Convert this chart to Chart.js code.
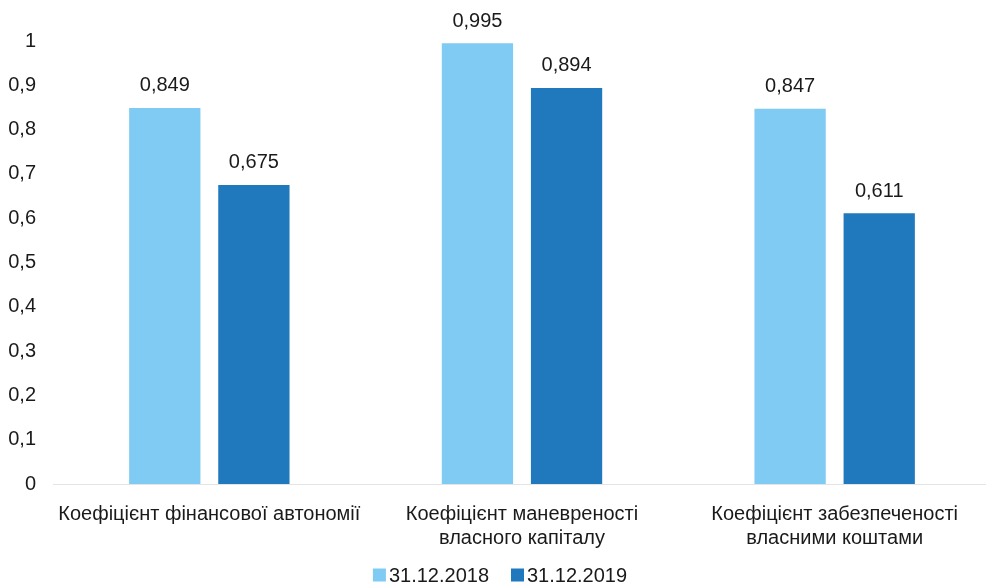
<!DOCTYPE html>
<html>
<head>
<meta charset="utf-8">
<script src="https://cdn.jsdelivr.net/npm/chart.js@4"></script>
<style>
  html, body { margin: 0; padding: 0; background: #ffffff; overflow: hidden; width: 986px; height: 584px; }
  #wrap { width: 991px; height: 584px; position: relative; }
</style>
</head>
<body>
<div id="wrap"><canvas id="c"></canvas></div>
<script>
// Financial stability ratios at two reporting dates
const categories = [
  ["Коефіцієнт фінансової автономії"],
  ["Коефіцієнт маневреності", "власного капіталу"],
  ["Коефіцієнт забезпеченості", "власними коштами"]
];
const seriesNames = ["31.12.2018", "31.12.2019"];
const values2018 = [0.849, 0.995, 0.847];
const values2019 = [0.675, 0.894, 0.611];
const yTicks = [0, 0.1, 0.2, 0.3, 0.4, 0.5, 0.6, 0.7, 0.8, 0.9, 1];

const FONT = "'Liberation Sans', Arial, sans-serif";
const TEXT = '#1a1a1a';
const fmt = v => String(v).replace('.', ',');

// Draws each bar's value above it
const valueLabels = {
  id: 'valueLabels',
  afterDatasetsDraw(chart) {
    const ctx = chart.ctx;
    ctx.save();
    ctx.font = "20px " + FONT;
    ctx.fillStyle = TEXT;
    ctx.textAlign = 'center';
    ctx.textBaseline = 'middle';
    chart.data.datasets.forEach((ds, i) => {
      chart.getDatasetMeta(i).data.forEach((bar, j) => {
        ctx.fillText(fmt(ds.data[j]), bar.x, bar.y - 22);
      });
    });
    ctx.restore();
  }
};

// Compact legend under the axis: square swatch, small gap, series name
const compactLegend = {
  id: 'compactLegend',
  afterDraw(chart) {
    const ctx = chart.ctx;
    const box = 13, gap = 3, itemGap = 22, cx = 500, cy = chart.height - 9;
    ctx.save();
    ctx.font = "20px " + FONT;
    ctx.textBaseline = 'middle';
    ctx.textAlign = 'left';
    const items = chart.data.datasets.map(ds => ({
      text: ds.label, color: ds.backgroundColor, w: box + gap + ctx.measureText(ds.label).width
    }));
    const total = items.reduce((s, it) => s + it.w, 0) + itemGap * (items.length - 1);
    let x = cx - total / 2;
    items.forEach(it => {
      ctx.fillStyle = it.color;
      ctx.fillRect(x, cy - box / 2, box, box);
      ctx.fillStyle = TEXT;
      ctx.fillText(it.text, x + box + gap, cy + 1);
      x += it.w + itemGap;
    });
    ctx.restore();
  }
};

new Chart(document.getElementById('c'), {
  type: 'bar',
  data: {
    labels: categories,
    datasets: [
      { label: seriesNames[0], data: values2018, backgroundColor: '#7fcbf4',
        categoryPercentage: 0.57, barPercentage: 0.8 },
      { label: seriesNames[1], data: values2019, backgroundColor: '#2079bd',
        categoryPercentage: 0.57, barPercentage: 0.8 }
    ]
  },
  options: {
    responsive: true,
    maintainAspectRatio: false,
    animation: false,
    layout: { padding: { top: 41, left: 7, right: 0, bottom: 24 } },
    plugins: {
      legend: { display: false },
      tooltip: { enabled: false }
    },
    scales: {
      x: {
        grid: { display: false },
        border: { display: true, color: '#e4e4e4' },
        afterFit(axis) { axis.paddingLeft = 0; axis.paddingRight = 0; },
        ticks: {
          font: { family: FONT, size: 20 },
          color: TEXT,
          padding: 10,
          maxRotation: 0,
          autoSkip: false
        }
      },
      y: {
        min: 0, max: 1,
        afterBuildTicks(axis) { axis.ticks = yTicks.map(v => ({ value: v })); },
        afterFit(axis) { axis.width = 46; },
        grid: { display: false, drawTicks: false },
        border: { display: false },
        ticks: {
          font: { family: FONT, size: 20 },
          color: TEXT,
          padding: 17,
          callback: v => fmt(v)
        }
      }
    }
  },
  plugins: [valueLabels, compactLegend]
});
</script>
</body>
</html>
